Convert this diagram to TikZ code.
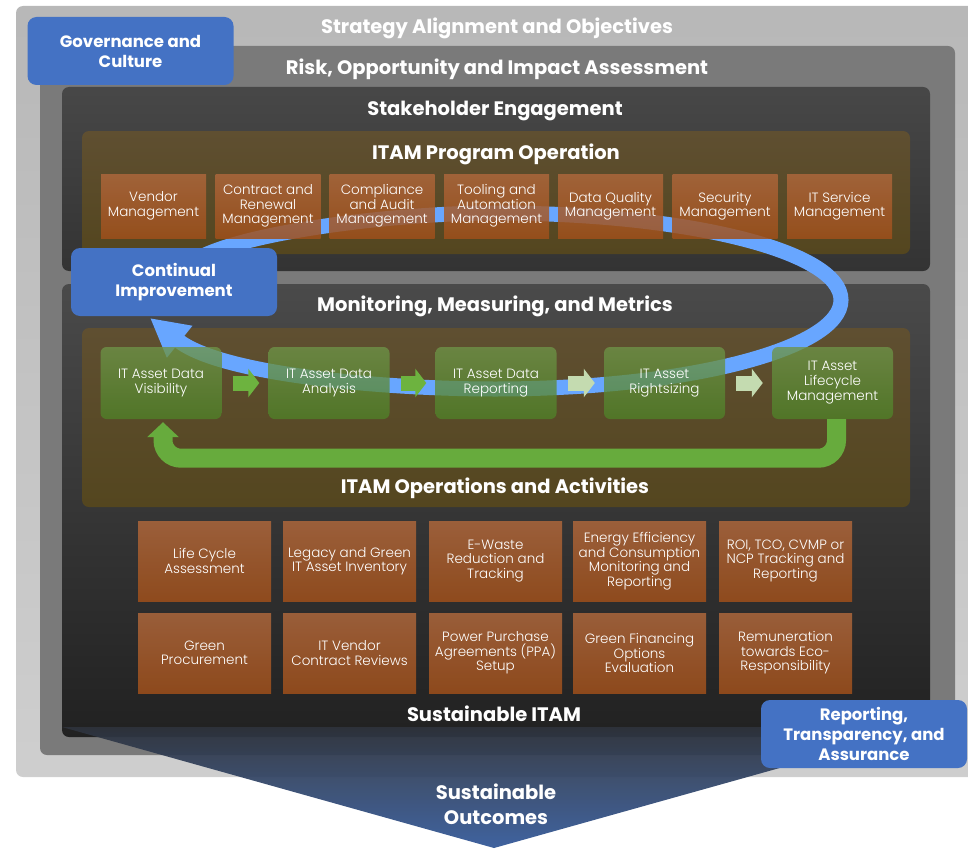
\documentclass[tikz,border=0pt]{standalone}
\usepackage{fontspec}
\setmainfont{Poppins}
\newfontfamily\lightfont{Poppins Light}
\usetikzlibrary{arrows.meta,calc,positioning}

\definecolor{tagblue}{HTML}{4472C4}
\definecolor{loopblue}{HTML}{68A6FF}
\definecolor{loopgreen}{HTML}{67AB3D}
\definecolor{stepgreen}{HTML}{6DB33F}
\definecolor{steppale}{HTML}{C4DBB0}
\definecolor{oliveTop}{HTML}{5F4F31}
\definecolor{oliveBot}{HTML}{54461F}
\definecolor{orangeTop}{HTML}{AD673C}
\definecolor{orangeBot}{HTML}{A0501B}
\definecolor{greenTop}{HTML}{6E9448}
\definecolor{greenBot}{HTML}{4F8228}
\definecolor{funnelTop}{HTML}{2F333C}
\definecolor{funnelMid}{HTML}{6B7EA6}
\definecolor{funnelBot}{HTML}{2F5597}

\begin{document}
\begin{tikzpicture}[x=1pt,y=-1pt,
 every node/.style={align=center,text=white,inner sep=0pt},
 title/.style={font=\bfseries\fontsize{19.5}{25}\selectfont},
 headline/.style={title,anchor=base},
 panel/.style={rounded corners=7pt},
 olive/.style={panel,top color=oliveTop,bottom color=oliveBot,minimum width=828pt},
 tag/.style={rounded corners=9pt,fill=tagblue,minimum width=206pt,minimum height=68pt,font=\bfseries\fontsize{16.5}{20}\selectfont},
 opbox/.style={top color=orangeTop,bottom color=orangeBot,fill opacity=0.85,text opacity=1,minimum width=105pt,minimum height=64pt,font=\lightfont\fontsize{13.5}{14.5}\selectfont},
 susbox/.style={opbox,minimum width=133pt,minimum height=80pt},
 actbox/.style={rounded corners=6pt,top color=greenTop,bottom color=greenBot,fill opacity=0.78,text opacity=1,minimum width=121pt,minimum height=72pt,font=\lightfont\fontsize{13.5}{15}\selectfont},
 steparrow/.style={-{Triangle[length=11pt,width=28pt]},line width=15pt,shorten <=11pt,shorten >=9pt},
 looparrow/.style={-{Triangle[length=15pt,width=31pt]},line width=19pt,draw=loopgreen,rounded corners=18pt},
 ciarrow/.style={-{Triangle[length=38pt,width=38pt]},line width=15pt,draw=loopblue}]
\useasboundingbox (0,0) rectangle (968,848);
% nested frames
\node[panel,top color=black!28,bottom color=black!19,minimum width=960pt,minimum height=771pt] (strat) at (496,391.5) {};
\node[panel,fill=black!52,minimum width=915pt,minimum height=709pt] (risk) at (497.5,400.5) {};
\node[headline] (strattitle) at (497,34) {Strategy Alignment and Objectives};
\node[headline] (risktitle) at (497,75) {Risk, Opportunity and Impact Assessment};
\node[tag] (gov) at (130.5,51) {Governance and\\Culture};
\node[panel,top color=black!72,bottom color=black!80,minimum width=868pt,minimum height=184pt] (stake) at (496,179) {};
\node[panel,top color=black!71,bottom color=black!87,minimum width=868pt,minimum height=453pt] (monitor) at (496,510.5) {};
\node[headline] (staketitle) at (495,115) {Stakeholder Engagement};
\node[headline] (monitortitle) at (495,311) {Monitoring, Measuring, and Metrics};
\node[olive,minimum height=123pt] (program) at (496,192.5) {};
\node[olive,minimum height=179pt] (operations) at (496,417.5) {};
\node[headline] (programtitle) at (496,159) {ITAM Program Operation};
\node[headline] (operationstitle) at (495,493) {ITAM Operations and Activities};
% continual improvement loop
\coordinate (loopstart) at (205,255);
\coordinate (looptip) at (150,318);
\draw[ciarrow] (loopstart) .. controls (260,230) and (400,213) .. (495,213)
 .. controls (686,213) and (841,251) .. (841,300)
 .. controls (841,349) and (686,389) .. (495,389)
 .. controls (380,389) and (220,374) .. (looptip);
% program operation
\node[opbox] (vendor) at (153.5,206) {Vendor\\Management};
\node[opbox] (contract) at (268,206) {Contract and\\Renewal\\Management};
\node[opbox] (compliance) at (382,206) {Compliance\\and Audit\\Management};
\node[opbox] (tooling) at (496.5,206) {Tooling and\\Automation\\Management};
\node[opbox] (quality) at (610.5,206) {Data Quality\\Management};
\node[opbox] (security) at (725,206) {Security\\Management};
\node[opbox] (service) at (839.5,206) {IT Service\\Management};
% operations and activities
\node[actbox] (vis) at (161,383) {IT Asset Data\\Visibility};
\node[actbox] (ana) at (329,383) {IT Asset Data\\Analysis};
\node[actbox] (rep) at (496,383) {IT Asset Data\\Reporting};
\node[actbox] (right) at (664.5,383) {IT Asset\\Rightsizing};
\node[actbox] (life) at (832.5,383) {IT Asset\\Lifecycle\\Management};
\draw[steparrow,draw=stepgreen] (vis) -- (ana);
\draw[steparrow,draw=stepgreen] (ana) -- (rep);
\draw[steparrow,draw=steppale] (rep) -- (right);
\draw[steparrow,draw=steppale] (right) -- (life);
\draw[looparrow] ($(life.south)+(4,0)$) -- ++(0,39) -| ($(vis.south)+(2,3)$);
\node[tag] (ci) at (174,282) {Continual\\Improvement};
% sustainable ITAM
\node[susbox] (lca) at (204.5,561) {Life Cycle\\Assessment};
\node[susbox] (legacy) at (349.5,561) {Legacy and Green\\IT Asset Inventory};
\node[susbox] (ewaste) at (495.5,561) {E-Waste\\Reduction and\\Tracking};
\node[susbox] (energy) at (639.5,561) {Energy Efficiency\\and Consumption\\Monitoring and\\Reporting};
\node[susbox] (roi) at (785.5,561) {ROI, TCO, CVMP or\\NCP Tracking and\\Reporting};
\node[susbox] (procure) at (204.5,653) {Green\\Procurement};
\node[susbox] (vendrev) at (349.5,653) {IT Vendor\\Contract Reviews};
\node[susbox] (ppa) at (495.5,653) {Power Purchase\\Agreements (PPA)\\Setup};
\node[susbox] (finance) at (639.5,653) {Green Financing\\Options\\Evaluation};
\node[susbox] (reward) at (785.5,653) {Remuneration\\towards Eco-\\Responsibility};
% outcomes funnel
\shade[top color=funnelTop,middle color=funnelMid,bottom color=funnelBot,opacity=0.92] (62,727) -- (926,727) -- (494,848) -- cycle;
\node[headline] (sustitle) at (494,721) {Sustainable ITAM};
\node[title] (outcomes) at (496,804) {Sustainable\\Outcomes};
\node[tag] (report) at (864,734) {Reporting,\\Transparency, and\\Assurance};
\end{tikzpicture}
\end{document}
